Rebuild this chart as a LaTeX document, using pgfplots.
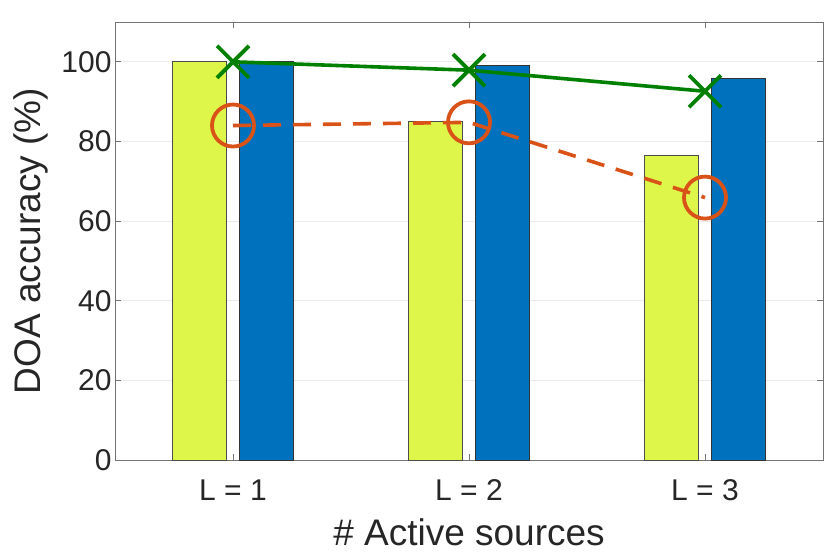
\documentclass[border=0pt]{standalone}
\usepackage{pgfplots}
\pgfplotsset{compat=1.18}
\usepackage{fontspec}
\setmainfont{Liberation Sans}
\definecolor{ybar}{RGB}{222,246,74}
\definecolor{bbar}{RGB}{0,114,189}
\definecolor{orng}{RGB}{217,83,25}
\definecolor{grn}{RGB}{0,128,0}
\definecolor{txt}{RGB}{38,38,38}
\begin{document}
\begin{tikzpicture}
\begin{axis}[
  scale only axis,
  width=708pt, height=438pt,
  xmin=0.5, xmax=3.5, ymin=0, ymax=110,
  xtick={1,2,3}, xticklabels={L = 1, L = 2, L = 3},
  ytick={0,20,40,60,80,100},
  tick align=inside,
  major tick length=6pt,
  axis line style={draw=black!55, line width=0.8pt},
  tick style={draw=black!55, line width=0.8pt},
  ymajorgrids,
  grid style={draw=black!8, line width=0.8pt},
  ticklabel style={font=\fontsize{30}{36}\selectfont, text=txt},
  xticklabel style={yshift=-16pt},
  /pgf/number format/assume math mode=true,
  xlabel={\# Active sources},
  ylabel={DOA accuracy (\%)},
  label style={font=\fontsize{37}{44}\selectfont, text=txt},
  xlabel style={yshift=-11pt},
  ylabel style={yshift=6pt},
  clip=false,
]
\coordinate (bl) at (rel axis cs:0,0);
\coordinate (tr) at (rel axis cs:1,1);
\addplot[ybar, bar width=0.229, bar shift=-0.143, fill=ybar, draw=black!70, line width=0.8pt]
  coordinates {(1,100) (2,85) (3,76.5)};
\addplot[ybar, bar width=0.229, bar shift=0.143, fill=bbar, draw=black!80, line width=0.8pt]
  coordinates {(1,100) (2,99) (3,95.8)};
\addplot[grn, line width=3.6pt, mark=x, mark size=22.6pt, mark options={solid, line width=3.8pt}]
  coordinates {(1,100) (2,97.9) (3,92.6)};
\addplot[orng, line width=3.6pt, dash pattern=on 18pt off 12pt, mark=o, mark size=21pt, mark options={solid, line width=3.8pt}]
  coordinates {(1,84) (2,84.8) (3,65.9)};
\end{axis}
\pgfresetboundingbox
\path ([shift={(-115pt,-91pt)}]bl) rectangle ([shift={(7pt,22pt)}]tr);
\end{tikzpicture}
\end{document}
